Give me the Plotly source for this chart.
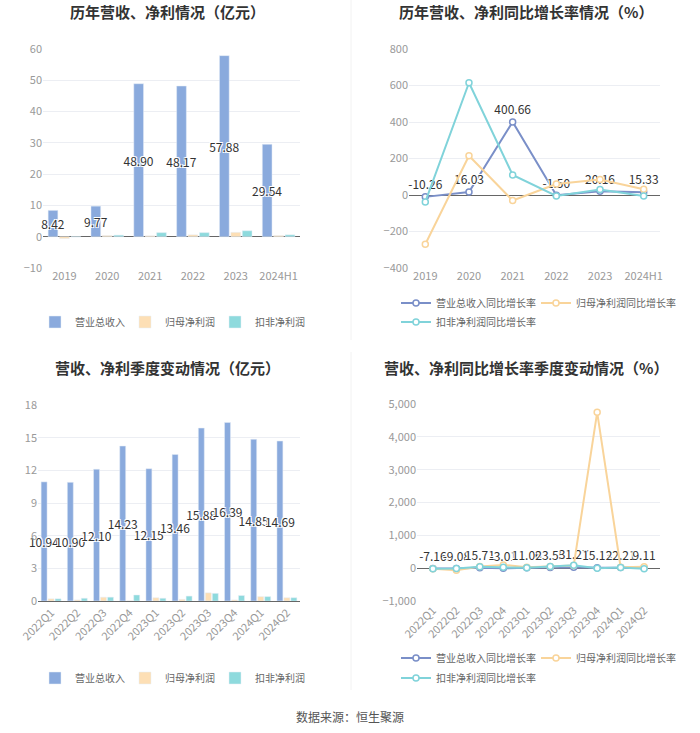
import plotly.graph_objects as go

# ---------------- data ----------------
years = ["2019", "2020", "2021", "2022", "2023", "2024H1"]
rev_year = [8.42, 9.77, 48.90, 48.17, 57.88, 29.54]
np_year = [-0.6, 0.4, 0.3, 0.6, 1.4, 0.4]
dnp_year = [-0.1, 0.5, 1.3, 1.3, 1.9, 0.6]

rev_yoy_year = [-10.26, 16.03, 400.66, -1.50, 20.16, 15.33]
np_yoy_year = [-270, 215, -30, 60, 85, 32]
dnp_yoy_year = [-38, 615, 110, -5, 30, -5]

quarters = ["2022Q1", "2022Q2", "2022Q3", "2022Q4", "2023Q1",
            "2023Q2", "2023Q3", "2023Q4", "2024Q1", "2024Q2"]
rev_q = [10.94, 10.90, 12.10, 14.23, 12.15, 13.46, 15.88, 16.39, 14.85, 14.69]
np_q = [0.2, 0.1, 0.35, 0.02, 0.3, 0.15, 0.75, 0.1, 0.4, 0.3]
dnp_q = [0.2, 0.25, 0.35, 0.55, 0.25, 0.45, 0.7, 0.5, 0.4, 0.3]

rev_yoy_q = [-7.16, -9.08, 15.71, -3.01, 11.06, 23.55, 31.27, 15.13, 22.21, 9.11]
np_yoy_q = [-20, -60, 50, 100, 30, 50, 80, 4745, 30, 40]
dnp_yoy_q = [-20, -10, 40, 30, 10, 50, 90, 0, 20, -20]

bar_names = ["营业总收入", "归母净利润", "扣非净利润"]
line_names = ["营业总收入同比增长率", "归母净利润同比增长率", "扣非净利润同比增长率"]

titles = ["历年营收、净利情况（亿元）", "历年营收、净利同比增长率情况（%）",
          "营收、净利季度变动情况（亿元）", "营收、净利同比增长率季度变动情况（%）"]
source = "数据来源：恒生聚源"

# ---------------- styles ----------------
W, H = 700, 733
FONT = "Noto Sans CJK SC"
BAR_COLORS = ["#8aaadd", "#fddfb5", "#8edadd"]
LINE_COLORS = ["#7a8fc8", "#f9d49a", "#80d3da"]
shadow = "1px 1px 0 #fff, -1px -1px 0 #fff, 1px -1px 0 #fff, -1px 1px 0 #fff"


def px_x(a, b):
    return [a / W, b / W]


def px_y(top, bottom):
    return [1 - bottom / H, 1 - top / H]


fig = go.Figure()

# ---- top-left bars ----
for i, (vals, name) in enumerate(zip([rev_year, np_year, dnp_year], bar_names)):
    fig.add_trace(go.Bar(
        x=years, y=vals, name=name, marker_color=BAR_COLORS[i],
        xaxis="x", yaxis="y", legend="legend", cliponaxis=False,
        text=[f"{v:.2f}" for v in vals] if i == 0 else None,
        textposition="inside" if i == 0 else "none",
        insidetextanchor="middle", constraintext="none", textangle=0,
        insidetextfont=dict(color="#333", size=12, family=FONT, shadow=shadow),
        hoverinfo="skip",
    ))

# ---- bottom-left bars ----
for i, (vals, name) in enumerate(zip([rev_q, np_q, dnp_q], bar_names)):
    fig.add_trace(go.Bar(
        x=quarters, y=vals, name=name, marker_color=BAR_COLORS[i],
        xaxis="x3", yaxis="y3", legend="legend3", cliponaxis=False,
        text=[f"{v:.2f}" for v in vals] if i == 0 else None,
        textposition="inside" if i == 0 else "none",
        insidetextanchor="middle", constraintext="none", textangle=0,
        insidetextfont=dict(color="#333", size=12, family=FONT, shadow=shadow),
        hoverinfo="skip",
    ))

# ---- top-right lines ----
leg_top = ["legend2", "legend2", "legend5"]
for i, (vals, name) in enumerate(zip([rev_yoy_year, np_yoy_year, dnp_yoy_year], line_names)):
    fig.add_trace(go.Scatter(
        x=years, y=vals, name=name, xaxis="x2", yaxis="y2", legend=leg_top[i],
        mode="lines+markers+text" if i == 0 else "lines+markers", cliponaxis=False,
        line=dict(color=LINE_COLORS[i], width=2),
        marker=dict(symbol="circle", size=6, color="#fff",
                    line=dict(color=LINE_COLORS[i], width=1.5)),
        text=[f"{v:.2f}" for v in vals] if i == 0 else None,
        textposition="top center",
        textfont=dict(color="#333", size=12, family=FONT, shadow=shadow),
        hoverinfo="skip",
    ))

# ---- bottom-right lines ----
leg_bot = ["legend4", "legend4", "legend6"]
for i, (vals, name) in enumerate(zip([rev_yoy_q, np_yoy_q, dnp_yoy_q], line_names)):
    fig.add_trace(go.Scatter(
        x=quarters, y=vals, name=name, xaxis="x4", yaxis="y4", legend=leg_bot[i],
        mode="lines+markers+text" if i == 0 else "lines+markers", cliponaxis=False,
        line=dict(color=LINE_COLORS[i], width=2),
        marker=dict(symbol="circle", size=6, color="#fff",
                    line=dict(color=LINE_COLORS[i], width=1.5)),
        text=[f"{v:.2f}" for v in vals] if i == 0 else None,
        textposition="top center",
        textfont=dict(color="#333", size=12, family=FONT, shadow=shadow),
        hoverinfo="skip",
    ))

grid = "#eceef3"
tickfont = dict(size=11, color="#999", family=FONT)


def xax(domain, anchor, angle=0, showline=False):
    return dict(domain=domain, anchor=anchor, type="category", showgrid=False,
                tickfont=tickfont, tickangle=angle, showline=showline,
                linecolor="#666", linewidth=1, ticks="", fixedrange=True,
                automargin=False)


def yax(domain, anchor, rng, dtick, fmt=None):
    d = dict(domain=domain, anchor=anchor, range=rng, dtick=dtick, showgrid=True,
             gridcolor=grid, gridwidth=1, zeroline=True, zerolinecolor="#666",
             zerolinewidth=1, tickfont=tickfont, showline=False, ticks="",
             fixedrange=True, automargin=False)
    if fmt:
        d["tickformat"] = fmt
    return d


legend_common = dict(orientation="h", font=dict(size=10, color="#666", family=FONT),
                     bgcolor="rgba(0,0,0,0)", itemclick=False, itemdoubleclick=False,
                     yanchor="middle")

fig.update_layout(
    width=W, height=H, margin=dict(l=0, r=0, t=0, b=0, autoexpand=False),
    paper_bgcolor="#fff", plot_bgcolor="#fff",
    font=dict(family=FONT),
    barmode="group", bargap=0.2, bargroupgap=0.15,
    xaxis=xax(px_x(43, 300), "y"),
    yaxis=yax(px_y(49, 268), "x", [-10, 60], 10),
    xaxis2=xax(px_x(409, 660), "y2"),
    yaxis2=yax(px_y(49, 268), "x2", [-400, 800], 200),
    xaxis3=xax(px_x(38, 300), "y3", angle=-45, showline=True),
    yaxis3=yax(px_y(405, 601), "x3", [0, 18], 3),
    xaxis4=xax(px_x(417, 660), "y4", angle=-45),
    yaxis4=yax(px_y(404, 601), "x4", [-1000, 5000], 1000, fmt=","),
    legend=dict(**legend_common, x=170 / W, xanchor="center", y=1 - 322 / H, entrywidth=45),
    legend2=dict(**legend_common, x=396 / W, xanchor="left", y=1 - 303 / H, entrywidth=95),
    legend5=dict(**legend_common, x=396 / W, xanchor="left", y=1 - 322 / H),
    legend3=dict(**legend_common, x=170 / W, xanchor="center", y=1 - 678 / H, entrywidth=45),
    legend4=dict(**legend_common, x=396 / W, xanchor="left", y=1 - 658 / H, entrywidth=95),
    legend6=dict(**legend_common, x=396 / W, xanchor="left", y=1 - 678 / H),
    showlegend=True,
)

# titles
title_pos = [(167, 12), (526, 12), (167, 367), (526, 367)]
for t, (cx, cy) in zip(titles, title_pos):
    fig.add_annotation(text=f"<b>{t}</b>", x=cx / W, y=1 - cy / H, xref="paper", yref="paper",
                       showarrow=False, xanchor="center", yanchor="middle",
                       font=dict(size=15, color="#333", family=FONT))

fig.add_annotation(text=source, x=0.5, y=1 - 716 / H, xref="paper", yref="paper",
                   showarrow=False, xanchor="center", yanchor="middle",
                   font=dict(size=12, color="#555", family=FONT))

# faint dividers
fig.add_shape(type="line", xref="paper", yref="paper", x0=351 / W, x1=351 / W,
              y0=1 - 340 / H, y1=1, line=dict(color="#f2f2f2", width=1))
fig.add_shape(type="line", xref="paper", yref="paper", x0=351 / W, x1=351 / W,
              y0=1 - 690 / H, y1=1 - 352 / H, line=dict(color="#f2f2f2", width=1))

fig.write_html("out.html")
